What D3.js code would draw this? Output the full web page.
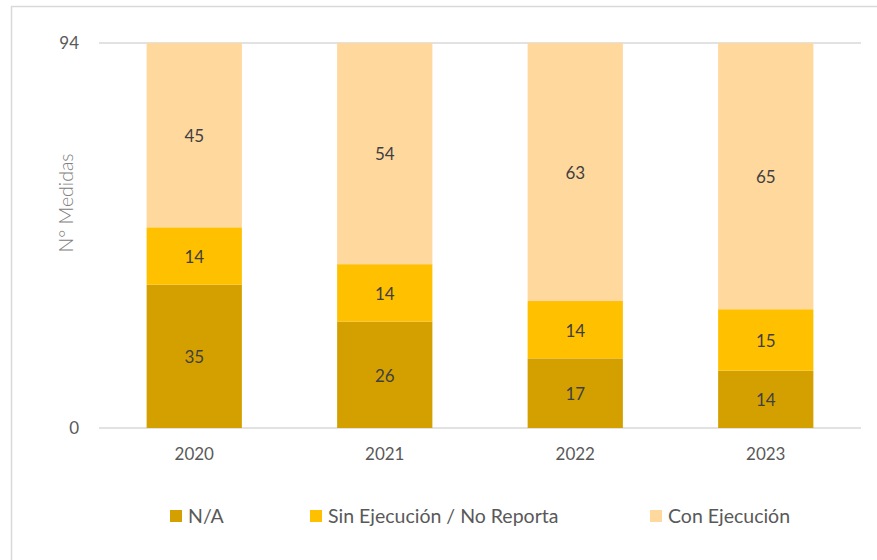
<!DOCTYPE html>
<html>
<head>
<meta charset="utf-8">
<script src="https://cdn.jsdelivr.net/npm/d3@7"></script>
<style>
  body { margin: 0; background: #fff; }
  text { font-family: Lato, "Open Sans", sans-serif; }
</style>
</head>
<body>
<div id="figure-container"></div>
<script>
var years = ['2020', '2021', '2022', '2023'];
var seriesNames = ['N/A', 'Sin Ejecución / No Reporta', 'Con Ejecución'];
var naValues = [35, 26, 17, 14];
var sinValues = [14, 14, 14, 15];
var conValues = [45, 54, 63, 65];
var yTicks = [0, 94];
var colors = ['#D4A000', '#FFC000', '#FFD89E'];

var fullWidth = 877, fullHeight = 560;
var margin = {top: 43, right: 16, bottom: 132, left: 99};
var width = fullWidth - margin.left - margin.right;
var height = fullHeight - margin.top - margin.bottom;

var rows = years.map(function(y, i) {
  return {year: y, na: naValues[i], sin: sinValues[i], con: conValues[i]};
});
var stack = d3.stack().keys(['na', 'sin', 'con']);
var layers = stack(rows);

var xScale = d3.scaleBand()
  .domain(years)
  .range([0, width])
  .paddingInner(0.5)
  .paddingOuter(0.25);

var yScale = d3.scaleLinear()
  .domain([0, 94])
  .range([height, 0]);

var root = d3.select('#figure-container')
  .append('svg')
  .attr('width', fullWidth)
  .attr('height', fullHeight);

// chart frame
root.append('rect')
  .attr('x', 11.5).attr('y', 6.5)
  .attr('width', 900).attr('height', 600)
  .attr('fill', 'none')
  .attr('stroke', '#d9d9d9')
  .attr('stroke-width', 1.5);

var svg = root.append('g')
  .attr('transform', `translate(${margin.left},${margin.top})`);

// gridlines
svg.append('g')
  .selectAll('line')
  .data(yTicks)
  .enter()
  .append('line')
  .attr('x1', 0).attr('x2', width)
  .attr('y1', function(d) { return yScale(d); })
  .attr('y2', function(d) { return yScale(d); })
  .attr('stroke', '#d9d9d9')
  .attr('stroke-width', 1.5);

var layerG = svg.append('g')
  .selectAll('g')
  .data(layers)
  .enter()
  .append('g')
  .attr('fill', function(d, i) { return colors[i]; });

layerG.selectAll('rect')
  .data(function(d) { return d; })
  .enter()
  .append('rect')
  .attr('x', function(d) { return xScale(d.data.year); })
  .attr('width', xScale.bandwidth())
  .attr('y', function(d) { return yScale(d[1]); })
  .attr('height', function(d) { return yScale(d[0]) - yScale(d[1]); });

layerG.selectAll('text')
  .data(function(d) { return d; })
  .enter()
  .append('text')
  .attr('x', function(d) { return xScale(d.data.year) + xScale.bandwidth() / 2; })
  .attr('y', function(d) { return (yScale(d[0]) + yScale(d[1])) / 2; })
  .attr('dy', '0.4em')
  .attr('text-anchor', 'middle')
  .attr('fill', '#404040')
  .style('font-size', '17px')
  .text(function(d) { return d[1] - d[0]; });

// y tick labels
svg.append('g')
  .selectAll('text')
  .data(yTicks)
  .enter()
  .append('text')
  .attr('x', -20)
  .attr('y', function(d) { return yScale(d); })
  .attr('dy', '0.35em')
  .attr('text-anchor', 'end')
  .attr('fill', '#595959')
  .style('font-size', '17px')
  .text(function(d) { return d; });

// x tick labels
svg.append('g')
  .selectAll('text')
  .data(years)
  .enter()
  .append('text')
  .attr('x', function(d) { return xScale(d) + xScale.bandwidth() / 2; })
  .attr('y', height + 26)
  .attr('dy', '0.35em')
  .attr('text-anchor', 'middle')
  .attr('fill', '#595959')
  .style('font-size', '17px')
  .text(function(d) { return d; });

// y axis title
root.append('text')
  .attr('transform', 'translate(66,203) rotate(-90)')
  .attr('text-anchor', 'middle')
  .attr('dy', '0.35em')
  .attr('fill', '#808080')
  .style('font-size', '19.5px')
  .style('font-weight', 300)
  .text('N° Medidas');

// legend
var legendX = [170, 310, 650];
var legend = root.append('g')
  .selectAll('g')
  .data(seriesNames)
  .enter()
  .append('g')
  .attr('transform', function(d, i) { return `translate(${legendX[i]},516)`; });

legend.append('rect')
  .attr('x', 0).attr('y', -6)
  .attr('width', 12).attr('height', 12)
  .attr('fill', function(d, i) { return colors[i]; });

legend.append('text')
  .attr('x', 18)
  .attr('dy', '0.35em')
  .attr('fill', '#595959')
  .style('font-size', '19.5px')
  .text(function(d) { return d; });
</script>
</body>
</html>
